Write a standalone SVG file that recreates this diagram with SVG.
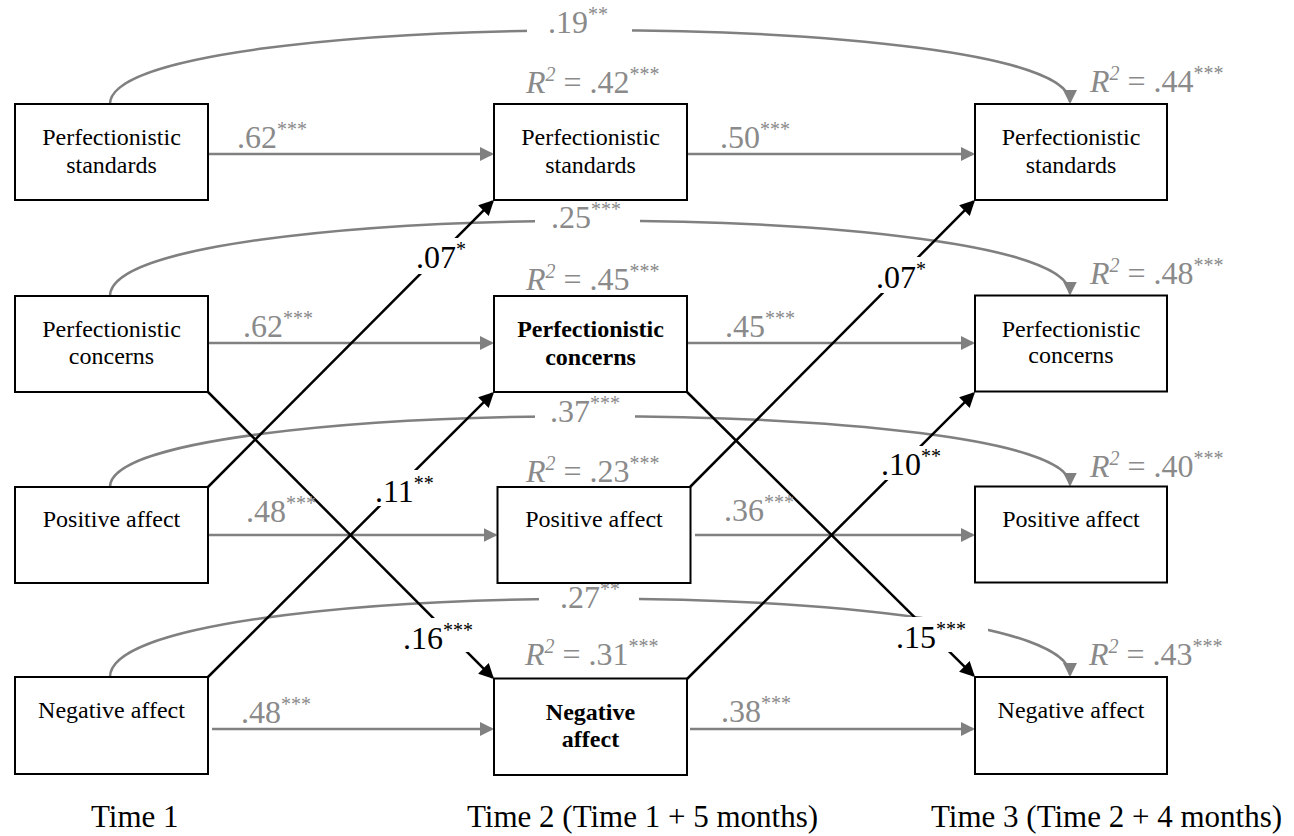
<svg xmlns="http://www.w3.org/2000/svg" width="1294" height="836" viewBox="0 0 1294 836">
<style>
.box{fill:#fff;stroke:#000;stroke-width:2}
.nt{font-family:"Liberation Serif","Times New Roman",serif;font-size:24px;fill:#000;text-anchor:middle}
.nb{font-weight:bold}
.lbl{font-family:"Liberation Serif","Times New Roman",serif;font-size:32px;fill:#8a8a8a}
.blk{fill:#000}
.sup{font-size:20px}
.it{font-style:italic}
.gl{stroke:#808080;stroke-width:2.5;fill:none}
.bl{stroke:#000;stroke-width:2.5;fill:none}
.mask{fill:#fff}
.time{font-family:"Liberation Serif","Times New Roman",serif;font-size:31px;fill:#000}
</style>
<defs>
<marker id="ag" markerUnits="userSpaceOnUse" markerWidth="14" markerHeight="14" refX="12" refY="7" orient="auto">
<path d="M0,0 L14,7 L0,14 z" fill="#808080"/>
</marker>
<marker id="ab" markerUnits="userSpaceOnUse" markerWidth="15" markerHeight="15" refX="13" refY="7.5" orient="auto">
<path d="M0,0 L15,7.5 L0,15 z" fill="#000"/>
</marker>
</defs>

<g id="connectors">
  <!-- horizontal stability paths -->
  <path class="gl" d="M208,154 L492,154" marker-end="url(#ag)"/>
  <path class="gl" d="M688,154 L973,154" marker-end="url(#ag)"/>
  <path class="gl" d="M208,343 L492,343" marker-end="url(#ag)"/>
  <path class="gl" d="M687,343 L973,343" marker-end="url(#ag)"/>
  <path class="gl" d="M208,535 L495.5,535" marker-end="url(#ag)"/>
  <path class="gl" d="M695,535 L973,535" marker-end="url(#ag)"/>
  <path class="gl" d="M212,729 L492,729" marker-end="url(#ag)"/>
  <path class="gl" d="M690,729 L973,729" marker-end="url(#ag)"/>
  <!-- curved T1 to T3 paths -->
  <path class="gl" d="M110,104 C110,6 1070,6 1070,102" marker-end="url(#ag)"/>
  <path class="gl" d="M110,296 C110,196 1070,196 1070,293.5" marker-end="url(#ag)"/>
  <path class="gl" d="M110,487 C110,393 1070,393 1070,484.5" marker-end="url(#ag)"/>
  <path class="gl" d="M110,677 C110,573 1070,573 1070,675" marker-end="url(#ag)"/>
  <!-- label gaps on curves -->
  <rect class="mask" x="527" y="4" width="105" height="38"/>
  <rect class="mask" x="535" y="202" width="105" height="34"/>
  <rect class="mask" x="535" y="394" width="100" height="34"/>
  <rect class="mask" x="539" y="586" width="100" height="28"/>
  <!-- cross-lagged paths -->
  <path class="bl" d="M208,487 L492.6,201.4" marker-end="url(#ab)"/>
  <path class="bl" d="M208,677 L492.6,393.4" marker-end="url(#ab)"/>
  <path class="bl" d="M208,392 L492.6,677.6" marker-end="url(#ab)"/>
  <path class="bl" d="M690,487 L973.6,201.4" marker-end="url(#ab)"/>
  <path class="bl" d="M687,679 L973.6,393.4" marker-end="url(#ab)"/>
  <path class="bl" d="M687,392 L973.6,675.6" marker-end="url(#ab)"/>
  <!-- label gaps on cross-lagged paths -->
  <rect class="mask" x="414" y="238" width="56" height="36"/>
  <rect class="mask" x="373" y="470" width="64" height="36"/>
  <rect class="mask" x="401" y="618" width="79" height="34"/>
  <rect class="mask" x="874" y="257" width="56" height="36"/>
  <rect class="mask" x="879" y="446" width="64" height="34"/>
  <rect class="mask" x="894" y="617" width="94" height="35"/>
  <!-- gray labels -->
  <text class="lbl" x="237" y="148">.62<tspan class="sup" dy="-12">***</tspan></text>
  <text class="lbl" x="720" y="148">.50<tspan class="sup" dy="-12">***</tspan></text>
  <text class="lbl" x="243" y="337">.62<tspan class="sup" dy="-12">***</tspan></text>
  <text class="lbl" x="725" y="337">.45<tspan class="sup" dy="-12">***</tspan></text>
  <text class="lbl" x="246" y="522">.48<tspan class="sup" dy="-12">***</tspan></text>
  <text class="lbl" x="724" y="521">.36<tspan class="sup" dy="-12">***</tspan></text>
  <text class="lbl" x="241" y="723">.48<tspan class="sup" dy="-12">***</tspan></text>
  <text class="lbl" x="721" y="722">.38<tspan class="sup" dy="-12">***</tspan></text>
  <text class="lbl" x="548" y="33">.19<tspan class="sup" dy="-12">**</tspan></text>
  <text class="lbl" x="551" y="228">.25<tspan class="sup" dy="-12">***</tspan></text>
  <text class="lbl" x="550" y="422">.37<tspan class="sup" dy="-12">***</tspan></text>
  <text class="lbl" x="560" y="608">.27<tspan class="sup" dy="-12">**</tspan></text>
  <!-- black labels -->
  <text class="lbl blk" x="416" y="268">.07<tspan class="sup" dy="-12">*</tspan></text>
  <text class="lbl blk" x="375" y="502">.11<tspan class="sup" dy="-12">**</tspan></text>
  <text class="lbl blk" x="403" y="649">.16<tspan class="sup" dy="-12">***</tspan></text>
  <text class="lbl blk" x="876" y="288">.07<tspan class="sup" dy="-12">*</tspan></text>
  <text class="lbl blk" x="881" y="475">.10<tspan class="sup" dy="-12">**</tspan></text>
  <text class="lbl blk" x="896" y="648">.15<tspan class="sup" dy="-12">***</tspan></text>
</g>

<g id="n-ps1">
  <rect class="box" x="15" y="104" width="193" height="96"/>
  <text class="nt" x="111.5" y="145">Perfectionistic</text>
  <text class="nt" x="111.5" y="172.7">standards</text>
</g>
<g id="n-pc1">
  <rect class="box" x="15" y="296" width="193" height="96"/>
  <text class="nt" x="111.5" y="336.7">Perfectionistic</text>
  <text class="nt" x="111.5" y="364">concerns</text>
</g>
<g id="n-pa1">
  <rect class="box" x="15" y="487" width="193" height="96"/>
  <text class="nt" x="111.5" y="527.3">Positive affect</text>
</g>
<g id="n-na1">
  <rect class="box" x="15" y="677" width="193" height="97"/>
  <text class="nt" x="111.5" y="718.3">Negative affect</text>
</g>

<g id="n-ps2">
  <rect class="box" x="494" y="104" width="193" height="96"/>
  <text class="nt" x="590.5" y="145">Perfectionistic</text>
  <text class="nt" x="590.5" y="172.7">standards</text>
  <text class="lbl" x="526" y="93"><tspan class="it">R</tspan><tspan class="sup it" dy="-12">2</tspan><tspan dy="12"> = .42</tspan><tspan class="sup" dy="-12">***</tspan></text>
</g>
<g id="n-pc2">
  <rect class="box" x="494" y="296" width="193" height="96"/>
  <text class="nt nb" x="590.5" y="337.3">Perfectionistic</text>
  <text class="nt nb" x="590.5" y="365">concerns</text>
  <text class="lbl" x="526" y="290"><tspan class="it">R</tspan><tspan class="sup it" dy="-12">2</tspan><tspan dy="12"> = .45</tspan><tspan class="sup" dy="-12">***</tspan></text>
</g>
<g id="n-pa2">
  <rect class="box" x="497.5" y="487" width="193" height="96"/>
  <text class="nt" x="594" y="527.3">Positive affect</text>
  <text class="lbl" x="526" y="482"><tspan class="it">R</tspan><tspan class="sup it" dy="-12">2</tspan><tspan dy="12"> = .23</tspan><tspan class="sup" dy="-12">***</tspan></text>
</g>
<g id="n-na2">
  <rect class="box" x="494" y="678.5" width="193" height="96.5"/>
  <text class="nt nb" x="590.5" y="720">Negative</text>
  <text class="nt nb" x="590.5" y="747.3">affect</text>
  <text class="lbl" x="525" y="665"><tspan class="it">R</tspan><tspan class="sup it" dy="-12">2</tspan><tspan dy="12"> = .31</tspan><tspan class="sup" dy="-12">***</tspan></text>
</g>

<g id="n-ps3">
  <rect class="box" x="975" y="104" width="192" height="96"/>
  <text class="nt" x="1071" y="145">Perfectionistic</text>
  <text class="nt" x="1071" y="172.7">standards</text>
  <text class="lbl" x="1090" y="92"><tspan class="it">R</tspan><tspan class="sup it" dy="-12">2</tspan><tspan dy="12"> = .44</tspan><tspan class="sup" dy="-12">***</tspan></text>
</g>
<g id="n-pc3">
  <rect class="box" x="975" y="295.5" width="192" height="96"/>
  <text class="nt" x="1071" y="336.7">Perfectionistic</text>
  <text class="nt" x="1071" y="363.3">concerns</text>
  <text class="lbl" x="1090" y="283.5"><tspan class="it">R</tspan><tspan class="sup it" dy="-12">2</tspan><tspan dy="12"> = .48</tspan><tspan class="sup" dy="-12">***</tspan></text>
</g>
<g id="n-pa3">
  <rect class="box" x="975" y="486.5" width="192" height="96"/>
  <text class="nt" x="1071" y="527.3">Positive affect</text>
  <text class="lbl" x="1090" y="477"><tspan class="it">R</tspan><tspan class="sup it" dy="-12">2</tspan><tspan dy="12"> = .40</tspan><tspan class="sup" dy="-12">***</tspan></text>
</g>
<g id="n-na3">
  <rect class="box" x="975" y="677" width="192" height="97"/>
  <text class="nt" x="1071" y="718.3">Negative affect</text>
  <text class="lbl" x="1089" y="665"><tspan class="it">R</tspan><tspan class="sup it" dy="-12">2</tspan><tspan dy="12"> = .43</tspan><tspan class="sup" dy="-12">***</tspan></text>
</g>

<g id="time-labels">
  <text class="time" x="91" y="827">Time 1</text>
  <text class="time" x="467" y="827">Time 2 (Time 1 + 5 months)</text>
  <text class="time" x="931" y="827">Time 3 (Time 2 + 4 months)</text>
</g>
</svg>
